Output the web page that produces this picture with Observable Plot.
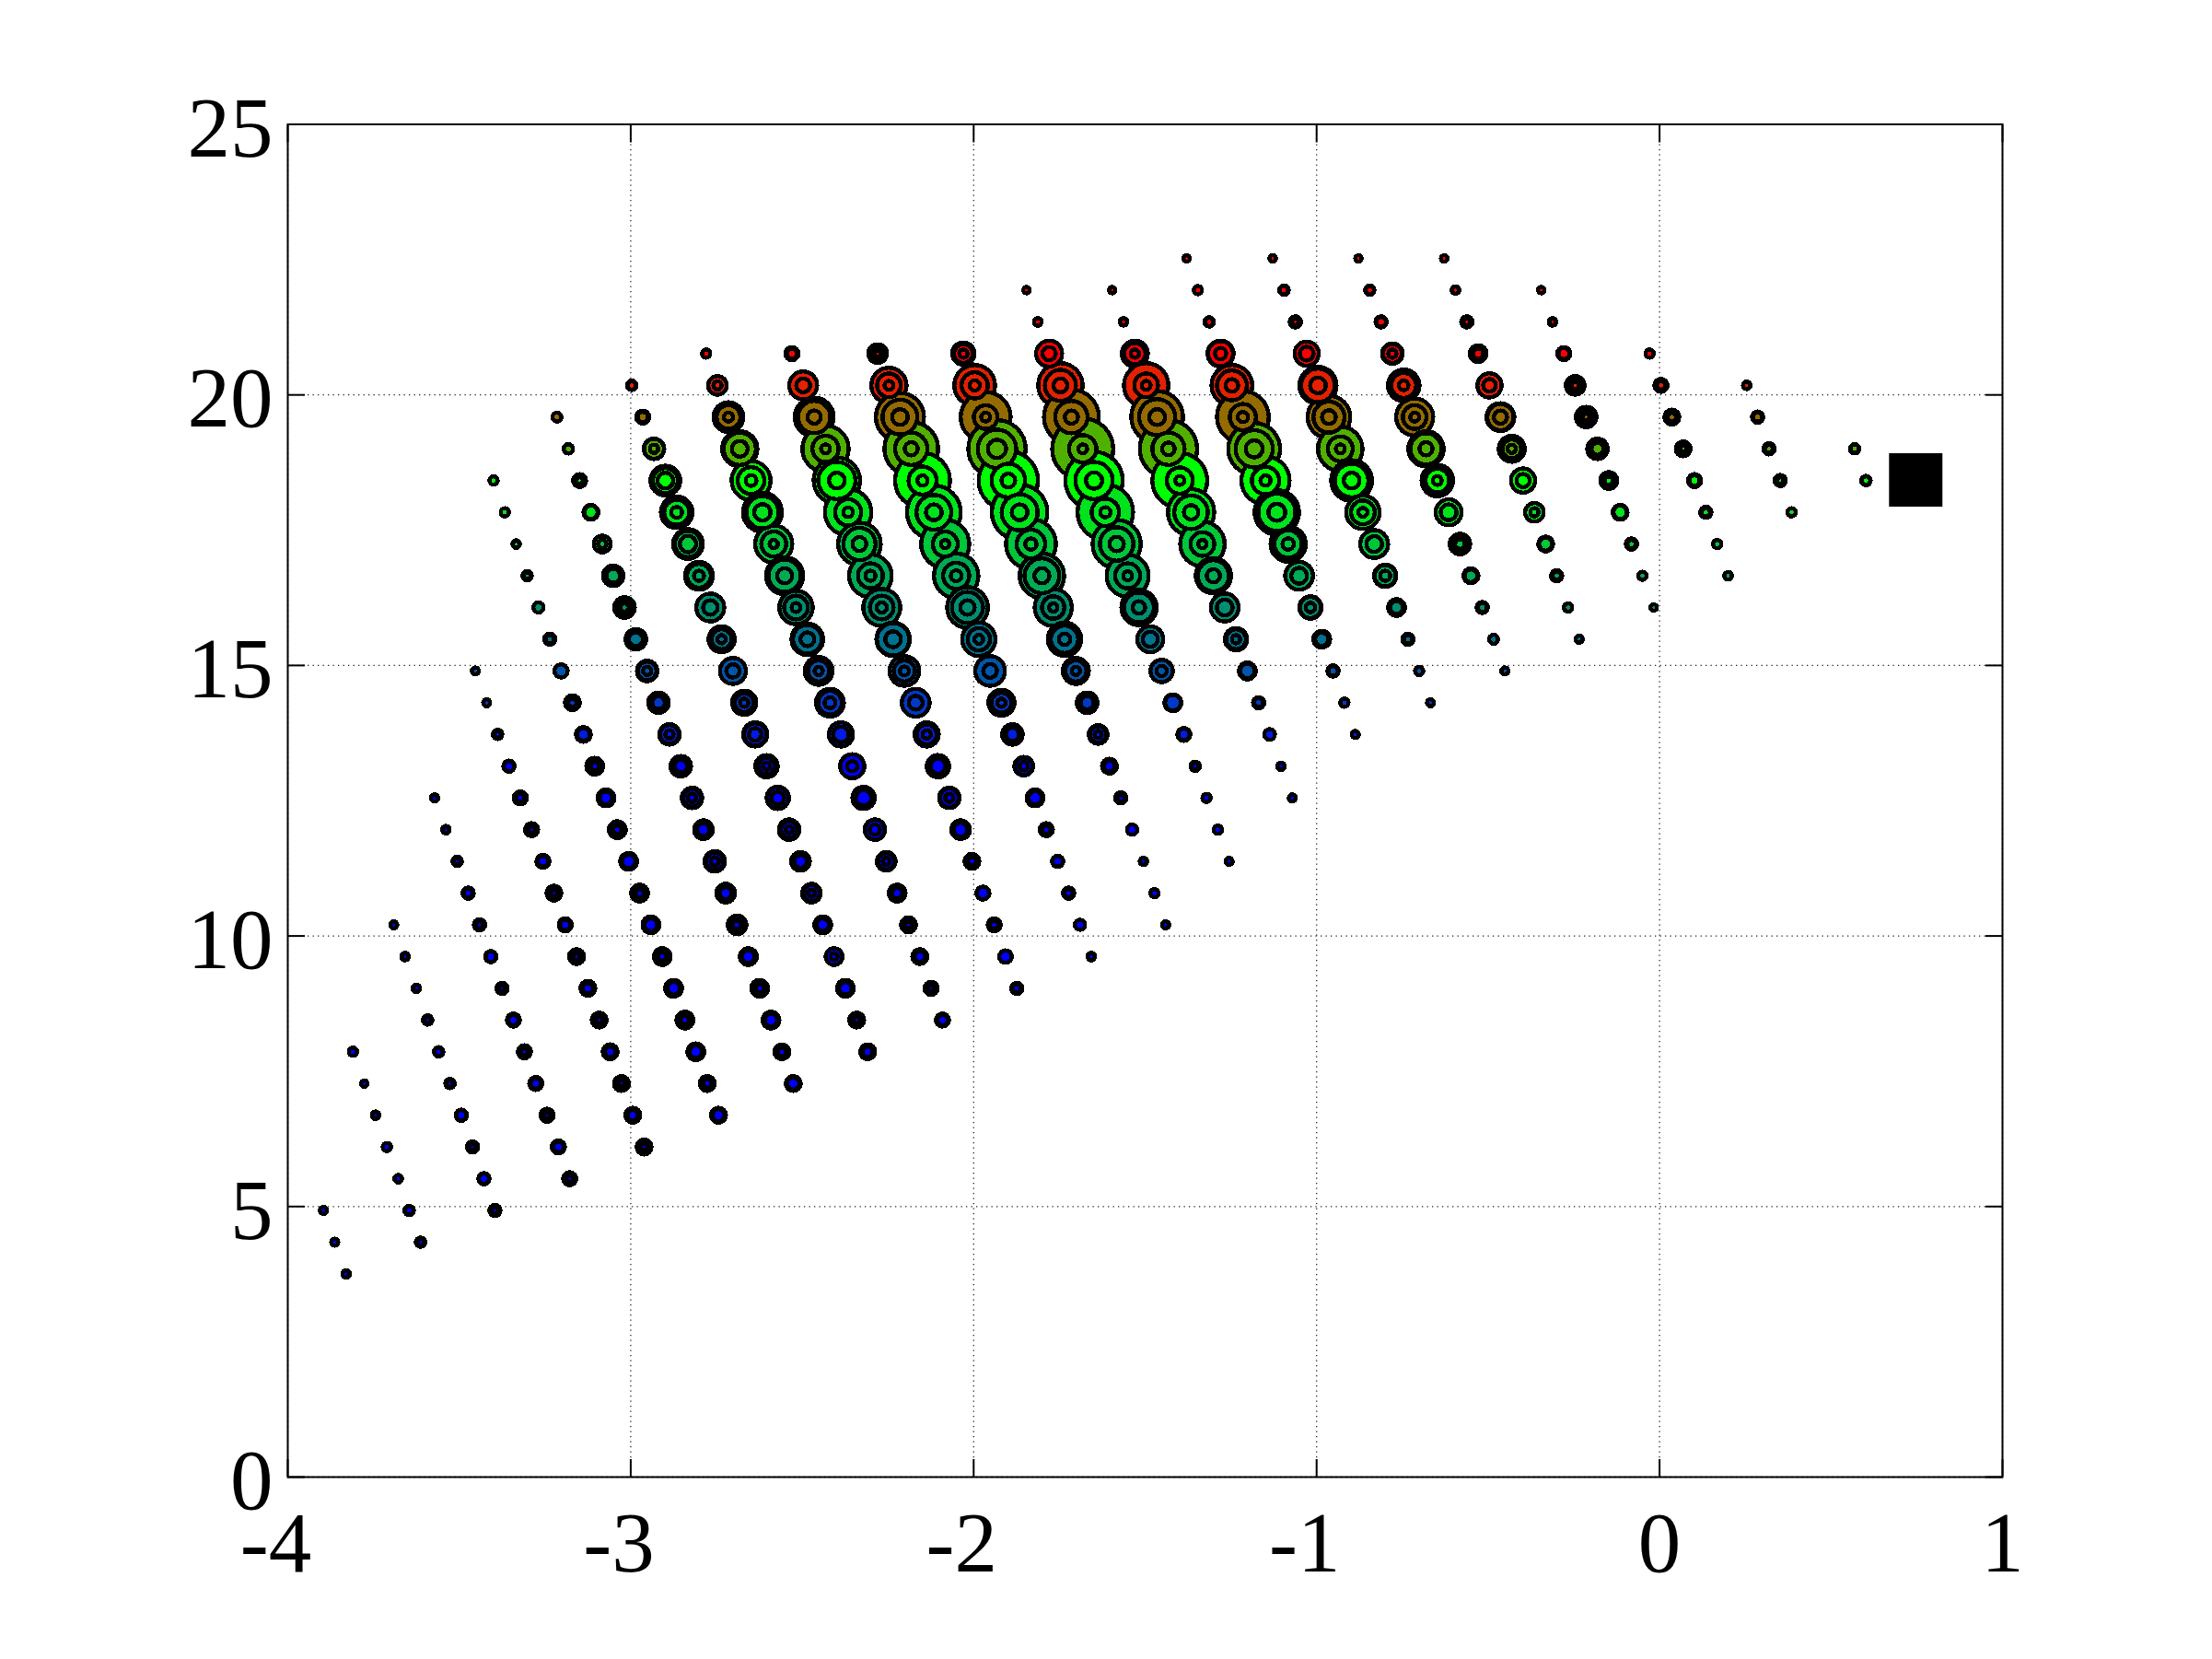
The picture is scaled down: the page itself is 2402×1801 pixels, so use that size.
<!DOCTYPE html>
<html>
<head>
<meta charset="utf-8">
<style>html,body{margin:0;padding:0;background:#fff}svg{display:block}</style>
<script src="https://cdn.jsdelivr.net/npm/d3@7"></script>
<script src="https://cdn.jsdelivr.net/npm/@observablehq/plot@0.6"></script>
</head>
<body>
<div id="chart"></div>
<script>
const xTicks = [-4, -3, -2, -1, 0, 1];
const yTicks = [0, 5, 10, 15, 20, 25];
const beamX = [0.747];
const beamY = [18.43];

const rowY = [3.754,4.341,4.927,5.514,6.100,6.687,7.273,7.860,8.446,9.033,9.619,10.206,10.792,11.379,11.965,12.552,13.138,13.725,14.311,14.898,15.484,16.071,16.657,17.244,17.830,18.417,19.003,19.590,20.176,20.763,21.349,21.936,22.522];
const rowColor = ["#0000ff","#0000ff","#0000ff","#0000ff","#0000ff","#0000ff","#0000ff","#0000ff","#0000ff","#0000ff","#0000ff","#0000ff","#0000ff","#0000ff","#0000ff","#0000ff","#0000ff","#001ce3","#0039c6","#0055aa","#00718e","#008e71","#00aa55","#00c639","#00e31c","#00ff00","#50b000","#936b00","#e32000","#ff0000","#ff0000","#ff0000","#ff0000"];

const columnFirstRow = [0,1,2,3,4,5,6,7,8,9,10,11,13,15,17,18,19,20,21,22,24,25];

const columnX = [
[-3.830,-3.863,-3.896],
[-3.613,-3.646,-3.678,-3.711,-3.744,-3.777,-3.810],
[-3.396,-3.428,-3.461,-3.494,-3.527,-3.560,-3.592,-3.625,-3.658,-3.691],
[-3.178,-3.211,-3.244,-3.277,-3.310,-3.342,-3.375,-3.408,-3.441,-3.474,-3.506,-3.539,-3.572],
[-2.961,-2.994,-3.027,-3.060,-3.092,-3.125,-3.158,-3.191,-3.224,-3.256,-3.289,-3.322,-3.355,-3.388,-3.420,-3.453],
[-2.744,-2.777,-2.810,-2.842,-2.875,-2.908,-2.941,-2.974,-3.006,-3.039,-3.072,-3.105,-3.138,-3.170,-3.203,-3.236,-3.269,-3.302,-3.334,-3.367,-3.400],
[-2.526,-2.559,-2.591,-2.624,-2.657,-2.690,-2.723,-2.755,-2.788,-2.821,-2.854,-2.887,-2.919,-2.952,-2.985,-3.018,-3.051,-3.083,-3.116,-3.149,-3.182,-3.215],
[-2.309,-2.341,-2.374,-2.407,-2.440,-2.473,-2.505,-2.538,-2.571,-2.604,-2.637,-2.669,-2.702,-2.735,-2.768,-2.801,-2.833,-2.866,-2.899,-2.932,-2.965,-2.997],
[-2.091,-2.124,-2.157,-2.190,-2.223,-2.255,-2.288,-2.321,-2.354,-2.387,-2.419,-2.452,-2.485,-2.518,-2.551,-2.583,-2.616,-2.649,-2.682,-2.715,-2.747,-2.780],
[-1.874,-1.907,-1.940,-1.973,-2.005,-2.038,-2.071,-2.104,-2.137,-2.169,-2.202,-2.235,-2.268,-2.301,-2.333,-2.366,-2.399,-2.432,-2.465,-2.497,-2.530],
[-1.657,-1.690,-1.723,-1.755,-1.788,-1.821,-1.854,-1.887,-1.919,-1.952,-1.985,-2.018,-2.051,-2.083,-2.116,-2.149,-2.182,-2.215,-2.247,-2.280],
[-1.440,-1.473,-1.505,-1.538,-1.571,-1.604,-1.637,-1.669,-1.702,-1.735,-1.768,-1.801,-1.833,-1.866,-1.899,-1.932,-1.965,-1.997,-2.030],
[-1.255,-1.288,-1.321,-1.354,-1.387,-1.419,-1.452,-1.485,-1.518,-1.551,-1.583,-1.616,-1.649,-1.682,-1.715,-1.747,-1.780,-1.813,-1.846],
[-1.071,-1.104,-1.137,-1.169,-1.202,-1.235,-1.268,-1.301,-1.333,-1.366,-1.399,-1.432,-1.465,-1.497,-1.530,-1.563,-1.596],
[-0.887,-0.919,-0.952,-0.985,-1.018,-1.051,-1.083,-1.116,-1.149,-1.182,-1.215,-1.247,-1.280,-1.313,-1.346,-1.379],
[-0.668,-0.701,-0.734,-0.767,-0.800,-0.832,-0.865,-0.898,-0.931,-0.964,-0.996,-1.029,-1.062,-1.095,-1.128],
[-0.451,-0.484,-0.517,-0.550,-0.582,-0.615,-0.648,-0.681,-0.714,-0.746,-0.779,-0.812,-0.845,-0.878],
[-0.234,-0.267,-0.300,-0.332,-0.365,-0.398,-0.431,-0.464,-0.496,-0.529,-0.562,-0.595,-0.628],
[-0.017,-0.050,-0.082,-0.115,-0.148,-0.181,-0.214,-0.246,-0.279,-0.312,-0.345],
[0.200,0.168,0.135,0.102,0.069,0.036,0.004,-0.029],
[0.385,0.352,0.319,0.286,0.254],
[0.602,0.569]
];

const columnOuter = [
[38,34,32],
[44,44,38,38,38,32,38],
[50,50,50,50,44,44,44,38,38,34],
[56,56,56,56,56,56,50,50,50,50,44,38,32],
[62,62,62,62,62,62,62,56,62,56,56,56,50,44,34,32],
[62,62,68,68,68,68,68,68,68,68,68,68,62,62,56,50,44,44,38,38,32],
[62,62,68,68,68,74,74,80,74,80,80,80,80,80,80,80,80,68,62,56,44,38],
[62,62,68,68,68,74,74,80,86,86,92,92,98,98,104,104,110,116,110,80,56,44],
[56,56,62,62,68,74,80,86,92,92,104,104,116,122,134,134,140,140,128,110,74,38],
[50,50,56,56,62,74,80,86,92,104,110,122,134,152,152,164,164,164,140,104,56],
[38,44,50,50,56,68,74,80,98,110,122,146,158,170,188,192,188,170,128,74],
[32,38,38,44,50,62,74,80,98,122,134,158,176,194,206,200,176,146,86],
[32,38,38,44,56,68,86,98,128,150,170,194,200,212,192,158,98,34,32],
[32,38,44,50,68,86,104,128,158,164,192,200,182,158,98,38,32],
[32,38,50,68,86,104,128,158,170,182,182,146,98,44,38,32],
[32,38,50,68,86,104,122,146,158,152,134,92,50,44,32],
[32,38,50,62,80,98,116,128,134,116,80,50,44,32],
[32,38,50,62,74,92,98,104,92,68,50,38,32],
[32,38,50,62,68,80,80,74,56,38,32],
[30,38,50,56,62,62,56,38],
[38,50,50,50,38],
[44,44]
];

// Diameter of the coloured centre of each marker, same reading.
const columnHole = [
[10,10,10],
[8,14,10,14,8,8,14],
[8,20,8,20,8,14,8,10,8,10],
[8,20,8,20,8,20,8,20,10,16,8,8,10],
[8,20,8,20,8,20,8,20,8,20,8,14,20,8,10,10],
[26,14,28,14,28,14,28,14,30,14,28,14,28,14,30,14,20,8,8,14,14],
[26,14,28,14,28,14,26,14,28,14,28,14,28,14,32,14,32,14,30,8,16,16],
[20,8,28,10,28,10,28,10,28,10,28,14,30,14,34,20,40,22,38,14,20,14],
[20,8,20,8,20,10,20,38,20,38,22,14,32,16,36,14,40,22,38,16,14,14],
[14,28,14,28,14,32,14,36,14,32,16,38,20,20,32,18,38,16,30,32,18],
[10,20,14,20,14,30,14,30,14,32,16,34,22,14,38,20,30,38,16,8],
[10,14,10,20,10,22,10,30,14,24,14,36,24,38,32,46,16,20,14],
[10,14,14,10,24,38,20,36,28,16,34,20,40,16,30,32,30,12,8],
[10,10,22,16,34,14,38,30,14,34,16,28,38,16,14,10,8],
[10,14,18,30,18,38,24,42,20,42,20,28,24,14,14,8],
[10,14,14,28,20,38,16,38,16,32,38,32,8,14,8],
[10,16,16,28,18,38,16,30,16,18,14,18,14,8],
[10,14,14,30,14,30,14,30,28,20,8,10,8],
[8,14,14,30,14,26,8,10,22,8,8],
[12,14,14,20,8,14,14,14],
[14,8,12,16,10],
[14,14]
];

// Radius of the middle ring, same reading; 0 where no ring shows.
const columnRing = [
[0,0,0],
[0,0,0,0,0,0,0],
[0,0,0,0,0,0,0,0,0,0],
[0,0,0,0,0,0,0,0,0,0,0,0,0],
[0,0,0,0,0,0,0,0,0,0,0,0,0,0,0,0],
[0,0,0,0,0,0,0,0,0,0,0,0,0,0,0,0,0,0,0,0,0],
[0,0,0,0,0,0,0,22,0,22,0,24,0,24,0,0,0,22,0,0,0,0],
[0,0,0,22,0,20,0,20,28,20,30,24,36,26,40,32,36,34,34,26,0,0],
[0,0,0,0,0,20,26,0,32,38,32,28,40,32,46,34,46,37,46,32,24,0],
[0,0,0,0,0,0,24,38,26,42,28,46,32,34,46,36,54,36,46,40,0],
[0,0,0,0,0,0,22,36,26,42,30,44,36,34,50,39,46,50,32,0],
[0,0,0,0,0,0,20,36,28,38,30,50,40,52,48,56,32,36,24],
[0,0,0,0,0,0,32,40,42,34,48,38,54,38,46,44,36,0,0],
[0,0,0,0,0,26,42,44,32,48,36,46,52,32,28,0,0],
[0,0,0,0,28,46,38,54,38,54,36,42,34,0,0,0],
[0,0,0,0,28,44,32,48,34,44,48,34,0,0,0],
[0,0,0,0,0,42,32,44,32,34,24,0,0,0],
[0,0,0,0,24,36,24,36,34,0,0,0,0],
[0,0,0,0,0,0,0,0,0,0,0],
[0,0,0,0,0,0,0,0],
[0,0,0,0,0],
[0,0]
];

const edge = 4.4;
const points = [];
columnX.forEach((xs, c) => xs.forEach((x, i) => {
  const row = columnFirstRow[c] + i;
  const r1 = columnOuter[c][i] / 6 - edge / 2;
  const r3 = columnHole[c][i] / 6 + edge / 2;
  const ring = columnRing[c][i];
  const r2 = ring ? Math.min(r1, (ring + 6.6) / 3) : (r1 + r3) / 2;
  points.push({x, y: rowY[row], row, r1, r2, r3});
}));
points.sort((a, b) => b.row - a.row);

const serif = "'Liberation Serif', 'Times New Roman', serif";
const layer = (r) => Plot.dot(points, {
  x: "x", y: "y", r, fill: "row", stroke: "black", strokeWidth: edge,
  sort: null, shapeRendering: "crispEdges"
});
const labelStyle = {fontFamily: serif, fontSize: 93, fill: "black", stroke: "none"};

const chart = Plot.plot({
  width: 2402, height: 1801,
  marginLeft: 312, marginRight: 228, marginTop: 134.5, marginBottom: 198,
  style: {background: "white", overflow: "visible"},
  x: {domain: [-4, 1], axis: null},
  y: {domain: [0, 25], axis: null},
  r: {type: "identity"},
  color: {type: "ordinal", domain: d3.range(rowColor.length), range: rowColor},
  marks: [
    Plot.gridX(xTicks, {stroke: "#222", strokeOpacity: 1, strokeWidth: 1.3, strokeDasharray: "1.3 4.2"}),
    Plot.gridY(yTicks, {stroke: "#222", strokeOpacity: 1, strokeWidth: 1.3, strokeDasharray: "1.3 4.2"}),
    layer("r1"), layer("r2"), layer("r3"),
    Plot.dot(beamX.map((x, i) => ({x, y: beamY[i]})), {x: "x", y: "y", r: 32.7, symbol: "square", fill: "black", stroke: "none"}),
    Plot.axisX(xTicks, {anchor: "bottom", tickSize: -19, strokeWidth: 2, tickFormat: () => "", label: null}),
    Plot.axisX(xTicks, {anchor: "top", tickSize: -19, strokeWidth: 2, tickFormat: () => "", label: null}),
    Plot.axisY(yTicks, {anchor: "left", tickSize: -19, strokeWidth: 2, tickFormat: () => "", label: null}),
    Plot.axisY(yTicks, {anchor: "right", tickSize: -19, strokeWidth: 2, tickFormat: () => "", label: null}),
    Plot.frame({stroke: "black", strokeWidth: 2}),
    Plot.text(xTicks.filter((d) => d < 0), {x: (d) => d, frameAnchor: "bottom", lineAnchor: "top", dy: 36, dx: -13, text: (d) => String(d), ...labelStyle}),
    Plot.text(xTicks.filter((d) => d >= 0), {x: (d) => d, frameAnchor: "bottom", lineAnchor: "top", dy: 36, text: (d) => String(d), ...labelStyle}),
    Plot.text(yTicks, {y: (d) => d, frameAnchor: "left", textAnchor: "end", lineAnchor: "middle", dx: -16, dy: 5, text: (d) => String(d), ...labelStyle})
  ]
});
document.getElementById("chart").appendChild(chart);
</script>
</body>
</html>
